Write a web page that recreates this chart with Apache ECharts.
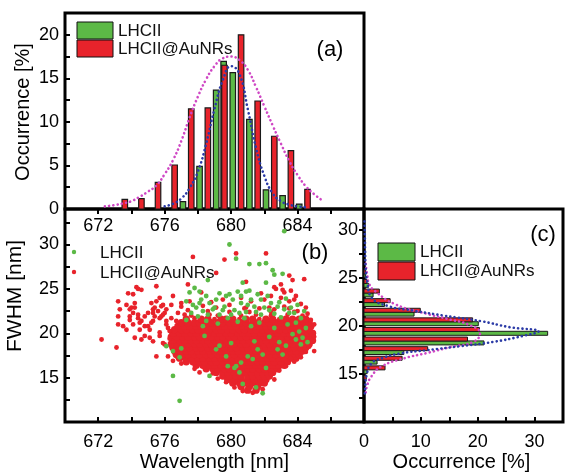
<!DOCTYPE html>
<html><head><meta charset="utf-8">
<script src="https://cdn.jsdelivr.net/npm/echarts@6/dist/echarts.min.js"></script>
<style>html,body{margin:0;padding:0;background:#fff}#c{width:566px;height:473px}</style>
</head><body><div id="c"></div><script>
// ---------- panel (a): wavelength histograms ----------
const wlGreenX = [677.1,678.1,679.1,679.55,680.1,681.1,682.1,683.1,684.1];
const wlGreenY = [0.85,4.9,13.65,16.95,15.65,10.3,2.2,1.53,0.57];
const wlRedX = [673.6,674.6,675.6,676.6,677.6,678.6,679.6,680.6,681.6,682.6,683.6,684.6];
const wlRedY = [1.1,1.2,3.05,5.05,11.5,11.6,16.5,20.0,12.4,8.35,6.7,2.25];
const fitRedA = [[672.4,0.3],[673.0,0.45],[673.5,0.65],[674.0,0.9],[674.5,1.4],[675.0,2.0],[675.5,2.7],[676.0,4.0],[676.5,5.6],[677.0,7.8],[677.5,10.5],[678.0,12.9],[678.5,14.9],[679.0,16.4],[679.5,17.3],[680.0,17.5],[680.5,17.1],[681.0,16.0],[681.5,14.0],[682.0,11.8],[682.5,9.6],[683.0,7.5],[683.5,5.5],[684.0,3.9],[684.5,2.6],[685.0,1.7],[685.4,1.1]];
const fitGreenA = [[676.0,0.3],[676.5,0.6],[677.0,1.2],[677.5,2.4],[678.0,4.3],[678.5,7.5],[679.0,11.5],[679.5,14.8],[680.0,16.4],[680.5,15.5],[681.0,11.5],[681.5,7.0],[682.0,3.8],[682.5,1.8],[683.0,0.9],[683.5,0.5],[684.0,0.3],[684.6,0.2]];

// ---------- panel (c): FWHM histograms ----------
const fwGreenY = [15.25,16.25,17.25,18.25,19.25,20.25,21.25,22.25,23.25,24.25,25.25];
const fwGreenV = [0.55,2.3,7.0,21.1,32.3,20.1,8.8,3.6,1.6,0.8,0.3];
const fwRedY = [14.65,15.65,16.65,17.65,18.65,19.65,20.65,21.65,22.65,23.65,24.65,25.65];
const fwRedV = [0.4,3.7,6.7,11.2,18.2,20.3,19.1,9.9,4.6,2.7,0.5,0.3];
const fitGreenC = [[0.1,30.9],[0.2,28.0],[0.3,26.0],[0.6,24.5],[1.3,23.0],[4.2,22.1],[8.8,21.6],[14.0,21.1],[20.7,20.5],[25.5,19.9],[30.7,19.45],[27.9,18.97],[22.7,18.35],[16.9,17.9],[11.1,17.5],[6.5,17.16],[3.1,16.65],[1.3,16.1],[0.5,15.0],[0.2,13.5],[0.1,12.6]];
const fitRedC = [[0.3,26.5],[0.6,25.2],[0.9,24.4],[1.9,23.67],[5.4,22.3],[11.1,21.27],[14.6,20.76],[18.6,20.1],[20.4,19.25],[19.2,18.35],[15.1,17.8],[11.1,17.2],[7.1,16.65],[3.1,15.8],[1.3,14.76],[0.5,13.7],[0.3,13.0]];

// ---------- panel (b): scatter ----------
// dense core of LHCII@AuNRs, listed as [FWHM, [wavelengths...]]
const redCoreRows = [
 [13.6,[681.0,681.5]],
 [14.0,[680.6,681.1,681.6]],
 [14.4,[680.1,680.5,680.9,681.3,681.7,682.0]],
 [14.8,[679.8,680.2,680.6,681.0,681.4,681.8,682.1]],
 [15.2,[679.5,679.9,680.3,680.6,681.0,681.3,681.7,682.0,682.3]],
 [15.6,[679.1,679.5,679.8,680.2,680.5,680.9,681.2,681.6,681.9,682.2,682.5]],
 [16.0,[678.5,678.9,679.2,679.6,679.9,680.3,680.6,681.0,681.3,681.7,682.0,682.4,682.8]],
 [16.4,[677.9,678.3,678.7,679.0,679.4,679.7,680.1,680.4,680.8,681.1,681.5,681.8,682.2,682.5,682.9,683.2]],
 [16.8,[677.3,677.7,678.1,678.4,678.8,679.1,679.5,679.8,680.2,680.5,680.9,681.2,681.6,681.9,682.3,682.6,683.0,683.4]],
 [17.2,[676.9,677.3,677.6,678.0,678.3,678.7,679.0,679.4,679.7,680.1,680.4,680.8,681.1,681.5,681.8,682.2,682.5,682.9,683.2,683.6,683.9]],
 [17.6,[676.7,677.1,677.4,677.8,678.1,678.5,678.8,679.2,679.5,679.9,680.2,680.6,680.9,681.3,681.6,682.0,682.3,682.7,683.0,683.4,683.7,684.1]],
 [18.0,[676.6,676.9,677.3,677.6,678.0,678.3,678.7,679.0,679.4,679.7,680.1,680.4,680.8,681.1,681.5,681.8,682.2,682.5,682.9,683.2,683.6,683.9,684.3]],
 [18.4,[676.5,676.8,677.2,677.5,677.9,678.2,678.6,678.9,679.3,679.6,680.0,680.3,680.7,681.0,681.4,681.7,682.1,682.4,682.8,683.1,683.5,683.8,684.2,684.5]],
 [18.8,[676.4,676.7,677.1,677.4,677.8,678.1,678.5,678.8,679.2,679.5,679.9,680.2,680.6,680.9,681.3,681.6,682.0,682.3,682.7,683.0,683.4,683.7,684.1,684.4,684.7]],
 [19.2,[676.5,676.9,677.2,677.6,677.9,678.3,678.6,679.0,679.3,679.7,680.0,680.4,680.7,681.1,681.4,681.8,682.1,682.5,682.8,683.2,683.5,683.9,684.2,684.6,684.9]],
 [19.6,[676.4,676.7,677.1,677.4,677.8,678.1,678.5,678.8,679.2,679.5,679.9,680.2,680.6,680.9,681.3,681.6,682.0,682.3,682.7,683.0,683.4,683.7,684.1,684.4,684.8]],
 [20.0,[676.5,676.9,677.2,677.6,677.9,678.3,678.6,679.0,679.3,679.7,680.0,680.4,680.7,681.1,681.4,681.8,682.1,682.5,682.8,683.2,683.5,683.9,684.2,684.6,684.9]],
 [20.4,[676.6,677.0,677.3,677.7,678.0,678.4,678.7,679.1,679.4,679.8,680.1,680.5,680.8,681.2,681.5,681.9,682.2,682.6,682.9,683.3,683.6,684.0,684.3,684.7]],
 [20.8,[676.8,677.2,677.5,677.9,678.2,678.6,678.9,679.3,679.6,680.0,680.3,680.7,681.0,681.4,681.7,682.1,682.4,682.8,683.1,683.5,683.8,684.2,684.5,684.8]],
 [21.2,[677.0,677.4,677.8,678.1,678.5,678.8,679.2,679.5,679.9,680.2,680.6,680.9,681.3,681.6,682.0,682.3,682.7,683.0,683.4,683.7,684.1,684.4,684.7]],
 [21.6,[677.3,678.2,678.6,679.4,679.7,680.1,680.9,681.3,682.1,682.5,683.3,683.7,684.1,684.5]]
];
const redSparse = [[672.2,19.3],[673.1,18.4],[673.2,23.6],[673.3,22.7],[673.2,21.9],[673.2,21.0],[673.5,20.8],[673.7,20.4],[673.9,22.7],[674.1,22.3],[674.2,22.9],[674.4,21.7],[674.6,21.4],[673.9,21.5],[674.1,21.0],[674.5,20.4],[674.8,20.8],[675.0,22.3],[675.3,22.7],[675.5,23.6],[675.7,24.0],[675.9,23.2],[675.6,22.5],[675.4,21.9],[675.8,21.9],[676.0,22.3],[676.1,21.4],[675.2,21.2],[675.1,20.4],[674.8,19.7],[674.6,19.3],[674.2,19.5],[675.3,19.1],[675.7,19.7],[676.0,18.75],[676.4,18.6],[674.6,24.9],[674.3,25.2],[673.8,24.5],[674.1,24.4],[674.4,25.0],[675.5,25.3],[673.7,23.2],[674.0,22.9],[674.2,23.4],[673.9,21.9],[674.4,22.1],[674.8,21.9],[675.2,23.4],[675.4,22.9],[675.8,23.05],[675.9,22.1],[675.3,22.3],[675.7,21.7],[676.1,22.7],[676.4,23.2],[676.5,24.2],[677.0,23.4],[676.8,22.3],[674.5,21.2],[675.0,20.8],[675.3,21.4],[676.1,21.0],[676.3,20.25],[675.7,20.1],[675.1,19.5],[675.9,18.9],[675.5,17.4],[676.6,18.2],[676.2,17.4],[676.5,16.9],[677.7,28.6],[679.6,28.3],[680.3,29.0],[682.1,29.0],[677.4,25.5],[678.2,24.6],[679.1,26.8],[680.9,25.8],[683.5,26.5],[683.7,26.0],[684.4,26.1],[683.0,25.5],[682.7,25.0],[683.2,24.6],[683.0,24.0],[683.5,23.6],[683.9,24.2],[682.4,24.2],[684.2,23.3],[684.5,22.9],[681.8,24.5],[680.6,24.0],[679.5,23.8],[678.8,23.5],[677.5,23.6],[677.0,23.0],[681.2,23.6],[682.0,23.8],[679.9,23.2],[678.3,23.1],[680.9,22.9],[682.3,22.9],[683.2,23.0],[684.0,22.5],[677.4,22.6],[684.6,22.2],[682.6,25.2],[683.1,24.9],[683.6,24.8],[683.8,23.8],[677.8,16.0],[678.1,15.6],[679.2,14.9],[679.7,14.5],[680.2,13.9],[681.9,13.7],[682.6,14.8],[682.9,15.8],[683.3,16.3],[683.8,16.8],[684.2,17.3],[684.5,17.9],[685.0,18.0],[685.0,21.0],[684.8,21.5],[685.0,19.6],[677.0,16.6],[676.8,17.2],[681.3,13.3],[680.7,13.5],[676.3,19.4],[676.2,20.6],[676.4,21.7],[676.7,21.4],[677.2,22.1],[678.9,15.5],[682.4,15.4],[683.6,17.2],[684.7,18.5],[677.6,22.0],[678.7,22.1],[679.2,22.0],[680.6,22.0],[681.5,22.1],[682.4,22.0],[683.4,22.1],[684.3,22.0],[678.6,22.5],[679.9,22.4],[681.1,22.4],[682.4,22.4],[683.8,22.4],[679.1,22.9],[680.8,22.8],[681.7,22.8],[682.6,22.7],[683.5,22.8],[677.8,21.7],[679.0,21.6],[680.5,21.6],[681.7,21.6],[682.9,21.6]];
const greenPts = [[679.9,30.0],[683.2,31.5],[680.3,28.4],[681.1,27.8],[681.7,27.8],[682.1,27.9],[682.5,27.1],[682.6,26.6],[683.1,26.7],[680.7,25.7],[682.1,25.7],[678.6,26.0],[680.9,24.7],[681.1,24.8],[681.6,24.4],[680.6,24.2],[681.2,23.8],[681.8,23.8],[682.2,24.2],[682.4,23.4],[681.4,23.0],[682.0,22.9],[682.8,23.0],[683.2,22.7],[683.6,22.9],[684.0,23.2],[683.8,22.3],[684.2,21.7],[680.8,21.7],[680.5,22.3],[681.2,20.8],[681.4,19.1],[681.6,18.2],[681.0,17.4],[681.3,17.1],[680.6,16.7],[682.8,18.2],[683.1,17.6],[683.9,19.3],[684.2,18.75],[684.1,20.2],[684.3,19.5],[683.7,19.9],[683.4,21.0],[682.6,20.6],[680.7,14.3],[681.5,13.9],[681.9,13.25],[680.5,15.6],[680.3,16.3],[682.1,16.1],[677.5,24.6],[677.8,25.1],[678.1,24.7],[677.3,23.6],[677.7,23.2],[678.2,23.8],[678.5,24.2],[678.7,23.4],[679.1,23.8],[679.3,24.5],[679.7,24.2],[680.1,23.8],[680.4,24.7],[680.6,23.4],[678.3,22.5],[678.0,21.9],[678.5,21.4],[678.9,22.7],[679.3,22.1],[678.3,20.8],[678.4,19.7],[679.1,18.2],[679.3,18.6],[679.7,17.4],[678.7,15.2],[676.5,15.2],[676.9,12.4],[679.8,16.3],[680.2,16.1],[676.5,18.0],[676.1,18.55],[677.0,18.3],[676.9,17.3],[679.0,22.9],[679.6,23.0],[680.2,22.6],[681.5,22.4],[682.6,22.2],[683.0,21.8],[679.8,21.7],[682.3,19.6],[682.9,19.0],[683.3,18.6],[684.5,20.6],[684.6,19.0],[677.9,22.9],[678.6,22.1],[679.5,22.6],[680.0,22.1],[680.9,22.4],[681.8,22.1],[682.3,22.6],[683.5,22.3],[684.4,22.5],[677.6,22.3],[678.1,23.4],[679.9,24.4],[681.0,23.2],[682.9,23.5],[683.3,23.9],[680.4,21.3],[681.7,21.2],[679.2,21.1],[683.9,21.2],[677.3,21.5],[680.0,18.9],[681.9,17.6]];

// ---------- build ----------
const redCore = redCoreRows.flatMap(r => r[1].map(x => [x, r[0]]));
const zip = (a, b) => a.map((v, i) => [v, b[i]]);
const GREEN = '#5cb946', RED = '#e8232b', MAG = '#cf47c4', BLUE = '#2b3aa6';
const FONT = '"Liberation Sans", Arial, sans-serif';
const chart = echarts.init(document.getElementById('c'), null, {renderer: 'canvas'});

function vbar(w) {
  return function (params, api) {
    const x = api.value(0), y = api.value(1);
    const p0 = api.coord([x, 0]), p1 = api.coord([x, y]);
    return {type: 'rect', shape: {x: p0[0] - w / 2, y: p1[1], width: w, height: p0[1] - p1[1]},
      style: {fill: api.visual('color'), stroke: '#1a1a1a', lineWidth: 1.2}};
  };
}
function hbar(h) {
  return function (params, api) {
    const v = api.value(0), y = api.value(1);
    const p0 = api.coord([0, y]), p1 = api.coord([v, y]);
    return {type: 'rect', shape: {x: p0[0], y: p0[1] - h / 2, width: p1[0] - p0[0], height: h},
      style: {fill: api.visual('color'), stroke: '#1a1a1a', lineWidth: 1}};
  };
}
const lab = (ok) => ({fontSize: 18, color: '#000', fontFamily: FONT, formatter: v => ok(v) ? String(v) : ''});
const dotted = (c) => ({color: c, width: 2.6, type: [0.1, 4.2], cap: 'round'});
const tickIn = {show: true, inside: true, length: 5, lineStyle: {color: '#000', width: 2}};
const tickOut = {show: true, inside: false, length: 5, lineStyle: {color: '#000', width: 2}};

chart.setOption({
  animation: false,
  backgroundColor: '#fff',
  grid: [
    {left: 65, top: 13, width: 299, height: 196, show: true, borderColor: '#000', borderWidth: 3},
    {left: 65, top: 209, width: 299, height: 214, show: true, borderColor: '#000', borderWidth: 3},
    {left: 364, top: 209, width: 204, height: 214, show: true, borderColor: '#000', borderWidth: 3}
  ],
  xAxis: [
    {gridIndex: 0, type: 'value', min: 670, max: 688, interval: 2, axisLine: {show: false}, splitLine: {show: false},
      axisTick: tickOut, axisLabel: Object.assign(lab(v => (v - 672) % 4 === 0 && v < 688), {margin: 8})},
    {gridIndex: 1, type: 'value', min: 670, max: 688, interval: 2, axisLine: {show: false}, splitLine: {show: false},
      axisTick: tickIn, axisLabel: Object.assign(lab(v => (v - 672) % 4 === 0 && v < 688), {margin: 11}),
      name: 'Wavelength [nm]', nameLocation: 'middle', nameGap: 29,
      nameTextStyle: {fontSize: 20, color: '#000', fontFamily: FONT}},
    {gridIndex: 2, type: 'value', min: 0, max: 35, interval: 5, axisLine: {show: false}, splitLine: {show: false},
      axisTick: tickIn, axisLabel: Object.assign(lab(v => v % 10 === 0 && v <= 30), {margin: 11}),
      name: 'Occurrence [%]', nameLocation: 'middle', nameGap: 29,
      nameTextStyle: {fontSize: 20, color: '#000', fontFamily: FONT, padding: [0, 4, 0, 0]}}
  ],
  yAxis: [
    {gridIndex: 0, type: 'value', min: 0, max: 22.5, interval: 2.5, axisLine: {show: false}, splitLine: {show: false},
      axisTick: tickIn, axisLabel: Object.assign(lab(v => v % 5 === 0 && v <= 20), {margin: 6})},
    {gridIndex: 1, type: 'value', min: 10, max: 34, interval: 2.5, axisLine: {show: false}, splitLine: {show: false},
      axisTick: tickIn, axisLabel: Object.assign(lab(v => v % 5 === 0 && v >= 15 && v <= 30), {margin: 6})},
    {gridIndex: 2, type: 'value', min: 10, max: 32.2, interval: 2.5, axisLine: {show: false}, splitLine: {show: false},
      axisTick: tickOut, axisLabel: Object.assign(lab(v => v % 5 === 0 && v >= 15 && v <= 30), {margin: 6})}
  ],
  series: [
    {type: 'custom', xAxisIndex: 0, yAxisIndex: 0, renderItem: vbar(5.5), itemStyle: {color: GREEN}, data: zip(wlGreenX, wlGreenY), z: 2},
    {type: 'custom', xAxisIndex: 0, yAxisIndex: 0, renderItem: vbar(5.5), itemStyle: {color: RED}, data: zip(wlRedX, wlRedY), z: 3},
    {type: 'line', xAxisIndex: 0, yAxisIndex: 0, data: fitRedA, smooth: true, showSymbol: false, lineStyle: dotted(MAG), z: 4},
    {type: 'line', xAxisIndex: 0, yAxisIndex: 0, data: fitGreenA, smooth: true, showSymbol: false, lineStyle: dotted(BLUE), z: 4},

    {type: 'scatter', xAxisIndex: 1, yAxisIndex: 1, data: redCore, symbolSize: 7.4, itemStyle: {color: RED, opacity: 1}, z: 2},
    {type: 'scatter', xAxisIndex: 1, yAxisIndex: 1, data: redSparse, symbolSize: 4.8, itemStyle: {color: RED, opacity: 1}, z: 2},
    {type: 'scatter', xAxisIndex: 1, yAxisIndex: 1, data: greenPts, symbolSize: 4.8, itemStyle: {color: GREEN, opacity: 1}, z: 3},

    {type: 'custom', xAxisIndex: 2, yAxisIndex: 2, renderItem: hbar(4), itemStyle: {color: GREEN}, data: zip(fwGreenV, fwGreenY), z: 2},
    {type: 'custom', xAxisIndex: 2, yAxisIndex: 2, renderItem: hbar(4), itemStyle: {color: RED}, data: zip(fwRedV, fwRedY), z: 3},
    {type: 'line', xAxisIndex: 2, yAxisIndex: 2, data: fitRedC, smooth: true, showSymbol: false, lineStyle: dotted(MAG), z: 4},
    {type: 'line', xAxisIndex: 2, yAxisIndex: 2, data: fitGreenC, smooth: true, showSymbol: false, lineStyle: dotted(BLUE), z: 4}
  ],
  graphic: [
    {type: 'text', x: 23, y: 112, rotation: Math.PI / 2, style: {text: 'Occurrence [%]', font: '20px ' + FONT, fill: '#000', align: 'center', verticalAlign: 'middle'}},
    {type: 'text', x: 15, y: 296, rotation: Math.PI / 2, style: {text: 'FWHM [nm]', font: '21px ' + FONT, fill: '#000', align: 'center', verticalAlign: 'middle'}},
    {type: 'text', x: 330, y: 50, style: {text: '(a)', font: '22px ' + FONT, fill: '#000', align: 'center', verticalAlign: 'middle'}},
    {type: 'text', x: 315, y: 253, style: {text: '(b)', font: '22px ' + FONT, fill: '#000', align: 'center', verticalAlign: 'middle'}},
    {type: 'text', x: 543, y: 235, style: {text: '(c)', font: '22px ' + FONT, fill: '#000', align: 'center', verticalAlign: 'middle'}},
    // legend (a)
    {type: 'rect', shape: {x: 77, y: 22, width: 36, height: 17}, style: {fill: GREEN, stroke: '#111', lineWidth: 1}},
    {type: 'rect', shape: {x: 77, y: 40, width: 36, height: 17}, style: {fill: RED, stroke: '#111', lineWidth: 1}},
    {type: 'text', x: 118, y: 31, style: {text: 'LHCII', font: '17px ' + FONT, fill: '#111', verticalAlign: 'middle'}},
    {type: 'text', x: 118, y: 49, style: {text: 'LHCII@AuNRs', font: '17px ' + FONT, fill: '#111', verticalAlign: 'middle'}},
    // legend (b)
    {type: 'circle', shape: {cx: 74, cy: 252, r: 2.2}, style: {fill: GREEN}},
    {type: 'circle', shape: {cx: 74, cy: 272, r: 2.2}, style: {fill: RED}},
    {type: 'text', x: 100, y: 253, style: {text: 'LHCII', font: '17px ' + FONT, fill: '#111', verticalAlign: 'middle'}},
    {type: 'text', x: 100, y: 273, style: {text: 'LHCII@AuNRs', font: '17px ' + FONT, fill: '#111', verticalAlign: 'middle'}},
    // legend (c)
    {type: 'rect', shape: {x: 378, y: 243, width: 37, height: 18}, style: {fill: GREEN, stroke: '#111', lineWidth: 1}},
    {type: 'rect', shape: {x: 378, y: 262, width: 37, height: 18}, style: {fill: RED, stroke: '#111', lineWidth: 1}},
    {type: 'text', x: 420, y: 252, style: {text: 'LHCII', font: '17px ' + FONT, fill: '#111', verticalAlign: 'middle'}},
    {type: 'text', x: 420, y: 271, style: {text: 'LHCII@AuNRs', font: '17px ' + FONT, fill: '#111', verticalAlign: 'middle'}}
  ]
});
</script></body></html>
